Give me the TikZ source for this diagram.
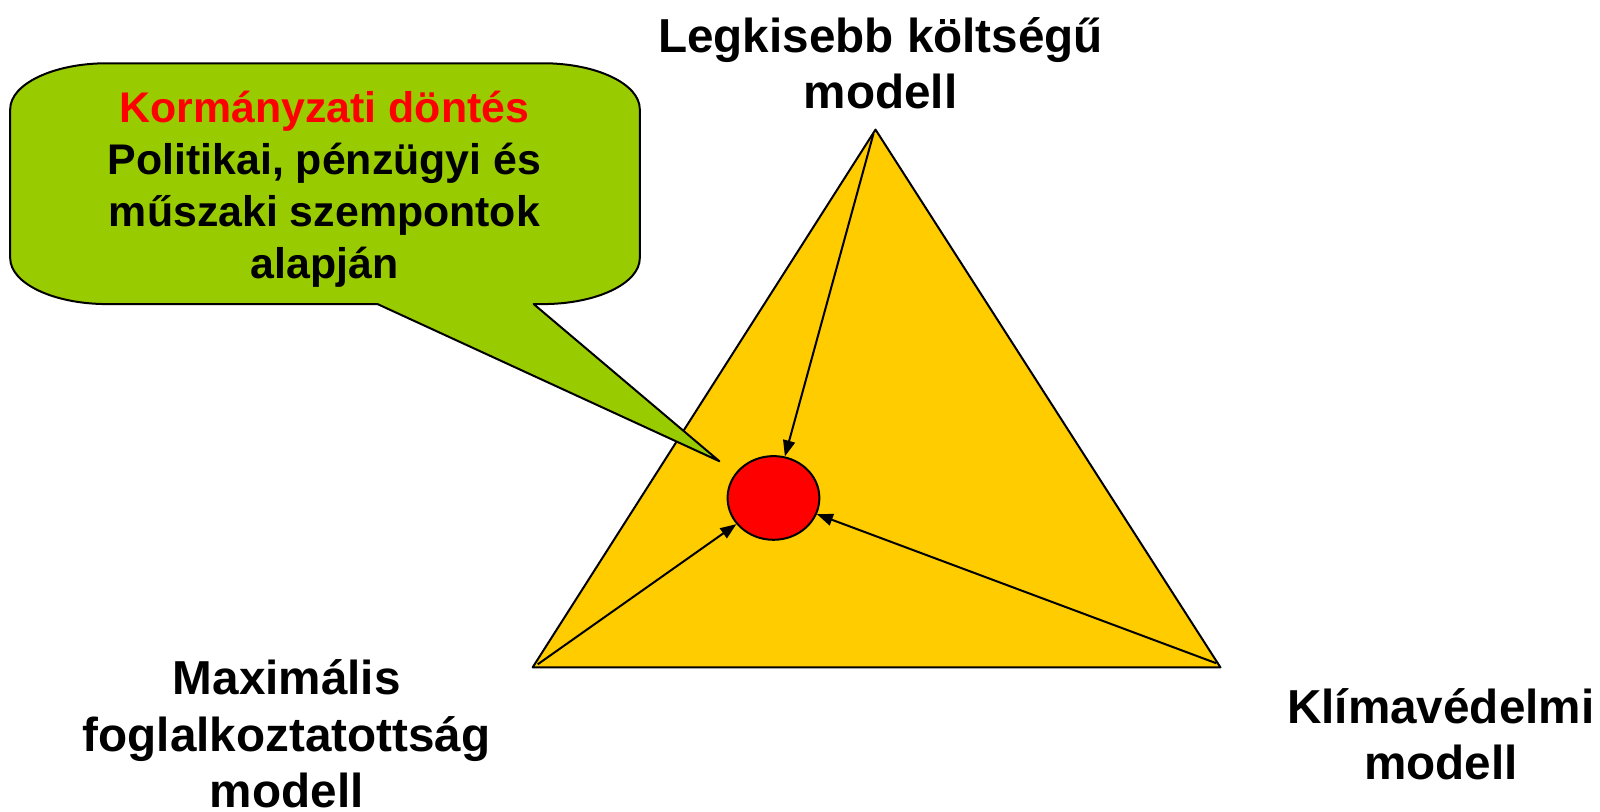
\documentclass[tikz,border=0pt]{standalone}
\usepackage{fontspec}
\setmainfont{Liberation Sans}
\usetikzlibrary{arrows.meta,shapes.geometric}
\definecolor{callgreen}{HTML}{99CC00}
\definecolor{triyellow}{HTML}{FFCC00}
\definecolor{dotred}{HTML}{FF0000}
\tikzset{
  biglabel/.style={align=center,font=\fontsize{47.65}{56.1}\selectfont\bfseries,inner sep=0pt,anchor=base},
  calltext/.style={align=center,font=\fontsize{42.86}{52}\selectfont\bfseries,inner sep=0pt,anchor=base},
  outline/.style={draw=black,line width=2pt,line join=round},
  conn/.style={draw=black,line width=2pt,-{Triangle[length=16pt,width=12pt]}},
}
\begin{document}
\begin{tikzpicture}[x=1.0204pt,y=-1.0204pt]
\useasboundingbox (0,0) rectangle (1568,794.8);
% triangle
\coordinate (apex) at (858,127);
\coordinate (bl) at (522,654);
\coordinate (br) at (1196,654);
\path[outline,fill=triyellow] (apex) -- (br) -- (bl) -- cycle;
% callout
\path[outline,fill=callgreen]
  (105,62) -- (532,62)
  .. controls (584.4,62) and (627,82.2) .. (627,107)
  -- (627,253)
  .. controls (627,277.8) and (584.4,298) .. (532,298)
  -- (523,298) -- (705,452) -- (370,298) -- (105,298)
  .. controls (52.6,298) and (10,277.8) .. (10,253)
  -- (10,107)
  .. controls (10,82.2) and (52.6,62) .. (105,62) -- cycle;
% central decision
\node[ellipse,outline,fill=dotred,minimum width=91.8pt,minimum height=83.7pt,inner sep=0pt] (circ) at (758,488) {};
% arrows
\coordinate (sa) at (856,131);
\coordinate (sb) at (527,651);
\coordinate (sc) at (1192,650);
\draw[conn] (sa) -- (circ);
\draw[conn] (sb) -- (circ);
\draw[conn] (sc) -- (circ);
% labels (anchor base = last line's baseline)
\node[biglabel] (top) at (863,106) {Legkisebb költségű\\modell};
\node[biglabel] (left) at (281,791) {Maximális\\foglalkoztatottság\\modell};
\node[biglabel] (right) at (1412,764) {Klímavédelmi\\modell};
\node[calltext] (call) at (318,273) {\textcolor{dotred}{Kormányzati döntés}\\Politikai, pénzügyi és\\műszaki szempontok\\alapján};
\end{tikzpicture}
\end{document}
